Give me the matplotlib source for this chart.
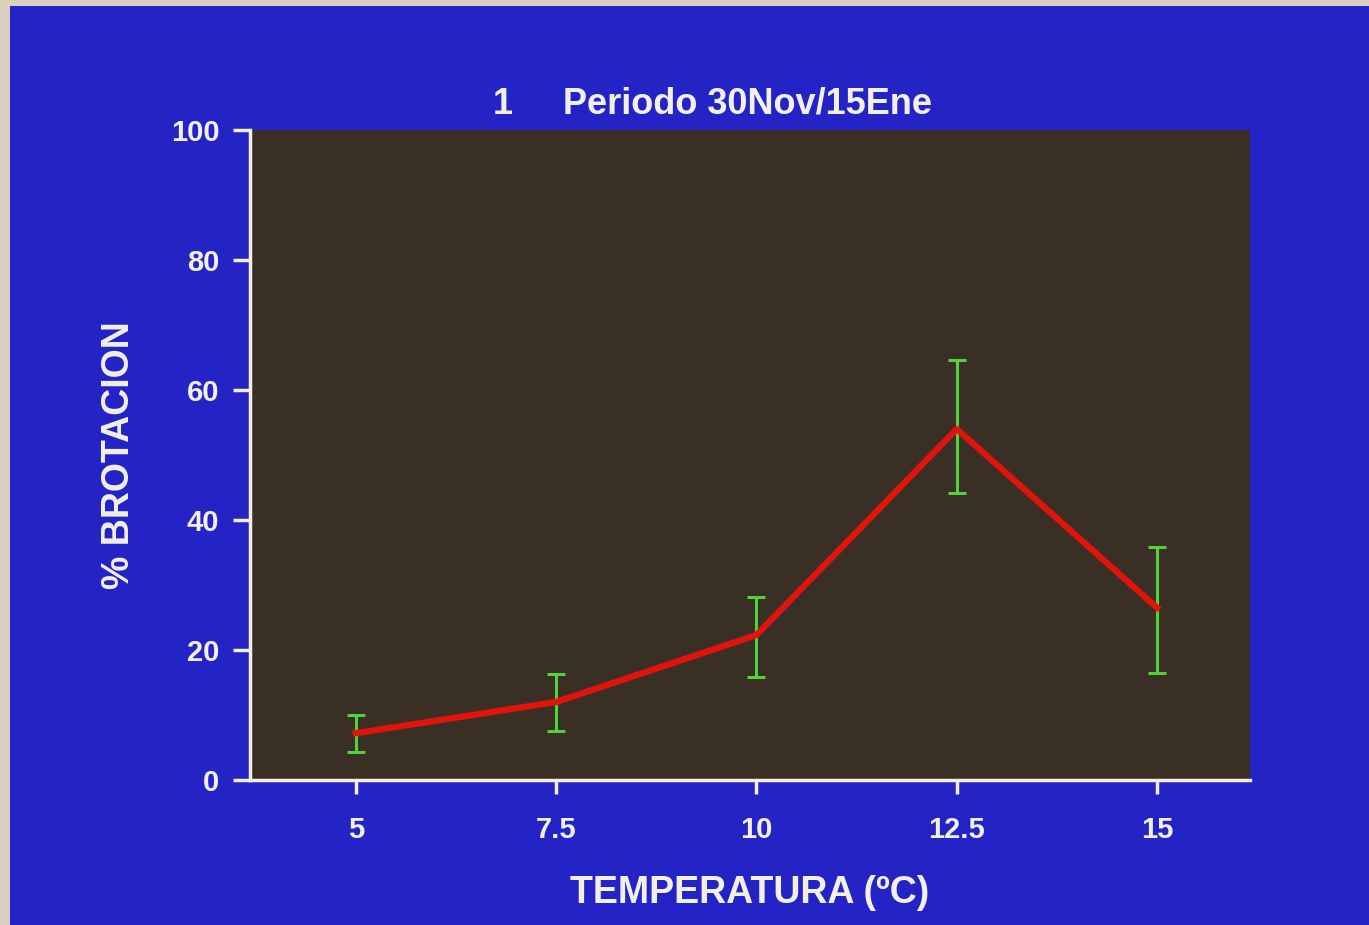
import matplotlib.pyplot as plt
from matplotlib.patches import Rectangle

temps = [5, 7.5, 10, 12.5, 15]
brot = [7.2, 12.0, 22.3, 54.0, 26.5]
err_hi = [10.0, 16.3, 28.2, 64.6, 35.8]
err_lo = [4.3, 7.6, 15.9, 44.2, 16.5]
xticks = [5, 7.5, 10, 12.5, 15]
xlabels = ["5", "7.5", "10", "12.5", "15"]
yticks = [0, 20, 40, 60, 80, 100]

BLUE = "#2424c6"
PLOT_BG = "#3a2f24"
WHITE = "#f2efe4"

plt.rcParams['font.family'] = ['Liberation Sans', 'DejaVu Sans']
plt.rcParams['font.weight'] = 'bold'

fig = plt.figure(figsize=(13.69, 9.25), dpi=100)
fig.patch.set_facecolor("#d9d0bd")
# blue slide area
fig.patches.append(Rectangle((10/1369, 0), 1 - 10/1369, 1 - 6/925, transform=fig.transFigure,
                             facecolor=BLUE, edgecolor="none", zorder=0))

ax = fig.add_axes([250/1369, 1 - 780/925, 1000/1369, 650/925])
ax.set_zorder(2)
ax.set_facecolor(PLOT_BG)

lower = [b - l for b, l in zip(brot, err_lo)]
upper = [h - b for b, h in zip(brot, err_hi)]
ax.errorbar(temps, brot, yerr=[lower, upper], fmt='none', ecolor="#4fd23a",
            elinewidth=2.2, capsize=6.5, capthick=2.2, zorder=2)
ax.plot(temps, brot, color="#e0140c", lw=4.5, zorder=3)

ax.set_xlim(3.68, 16.16)
ax.set_ylim(0, 100)
ax.set_xticks(xticks)
ax.set_xticklabels(xlabels)
ax.set_yticks(yticks)

for s in ["top", "right"]:
    ax.spines[s].set_visible(False)
for s in ["left", "bottom"]:
    ax.spines[s].set_color(WHITE)
    ax.spines[s].set_linewidth(2.5)
ax.tick_params(axis='y', colors=WHITE, length=12, width=2.5, labelsize=21, pad=10)
ax.tick_params(axis='x', colors=WHITE, length=10, width=2.5, labelsize=21, pad=16)
for lab in ax.get_xticklabels() + ax.get_yticklabels():
    lab.set_fontweight('bold')

ax.set_xlabel("TEMPERATURA (ºC)", color=WHITE, fontsize=27, fontweight='bold', labelpad=22)
ax.set_ylabel("% BROTACION", color=WHITE, fontsize=27, fontweight='bold', labelpad=24)

fig.text(503/1369, 1 - 104/925, "1", color=WHITE, fontsize=26, fontweight='bold',
         ha='center', va='center')
fig.text(563/1369, 1 - 104/925, "Periodo 30Nov/15Ene", color=WHITE, fontsize=26,
         fontweight='bold', ha='left', va='center')

fig.savefig("out.png", dpi=100, facecolor=fig.get_facecolor())
